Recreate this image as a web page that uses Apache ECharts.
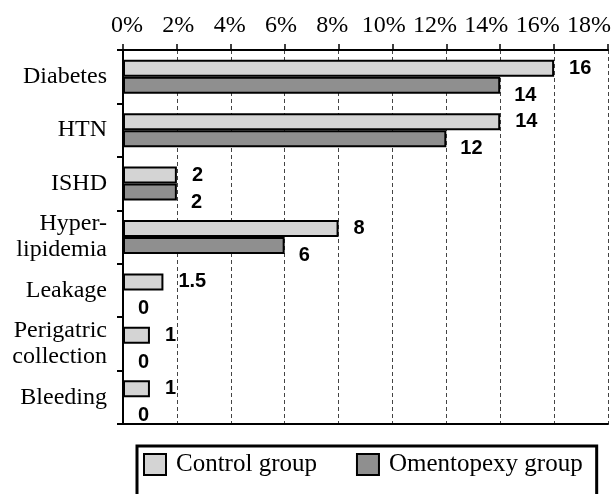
<!DOCTYPE html>
<html>
<head>
<meta charset="utf-8">
<script src="https://cdn.jsdelivr.net/npm/echarts@6/dist/echarts.min.js"></script>
<style>
html, body { margin: 0; padding: 0; background: #fff; }
#main { width: 616px; height: 494px; }
</style>
</head>
<body>
<div id="main"></div>
<script>
var categories = ['Diabetes', 'HTN', 'ISHD', 'Hyper-\nlipidemia', 'Leakage', 'Perigatric\ncollection', 'Bleeding'];
var controlValues = [16, 14, 2, 8, 1.5, 1, 1];
var omentopexyValues = [14, 12, 2, 6, 0, 0, 0];
var seriesNames = ['Control group', 'Omentopexy group'];

var chart = echarts.init(document.getElementById('main'));

var serif = 'Liberation Serif';
var labelFont = {
    show: true,
    position: 'right',
    fontFamily: 'Liberation Sans',
    fontWeight: 'bold',
    fontSize: 20,
    color: '#000'
};

option = {
    backgroundColor: '#fff',
    animation: false,
    grid: [
        // plot area
        { left: 123, right: 8, top: 50, bottom: 70 },
        // only for the top tick labels (they sit slightly apart from the ticks)
        { left: 127, right: 27, top: 50, height: 10 }
    ],
    legend: {
        data: seriesNames,
        left: 137,
        top: 446,
        orient: 'horizontal',
        icon: 'rect',
        itemWidth: 22,
        itemHeight: 21,
        itemGap: 39,
        borderColor: '#000',
        borderWidth: 3,
        padding: [6, 14, 40, 6],
        textStyle: {
            fontFamily: serif,
            fontSize: 25,
            color: '#000',
            padding: [0, 0, 0, 5]
        }
    },
    xAxis: [{
        type: 'value',
        gridIndex: 0,
        position: 'top',
        min: 0,
        max: 18,
        interval: 2,
        axisLine: { show: true, lineStyle: { color: '#000', width: 2 } },
        axisTick: { show: true, length: 6, lineStyle: { color: '#000', width: 1.5 } },
        axisLabel: { show: false },
        splitLine: { show: true, lineStyle: { color: '#444', width: 1, type: [4, 3] } }
    }, {
        type: 'value',
        gridIndex: 0,
        position: 'bottom',
        min: 0,
        max: 18,
        axisLine: { show: true, lineStyle: { color: '#000', width: 2 } },
        axisTick: { show: false },
        axisLabel: { show: false },
        splitLine: { show: false }
    }, {
        type: 'value',
        gridIndex: 1,
        position: 'top',
        min: 0,
        max: 18,
        interval: 2,
        axisLine: { show: false },
        axisTick: { show: false },
        splitLine: { show: false },
        axisLabel: {
            margin: 12,
            fontFamily: serif,
            fontSize: 24,
            color: '#000',
            formatter: '{value}%'
        }
    }],
    yAxis: [{
        type: 'category',
        gridIndex: 0,
        data: categories,
        inverse: true,
        axisLine: { show: true, lineStyle: { color: '#000', width: 2 } },
        axisTick: { show: true, length: 6, lineStyle: { color: '#000', width: 2 } },
        axisLabel: {
            margin: 16,
            fontFamily: serif,
            fontSize: 24,
            lineHeight: 26,
            color: '#000'
        },
        splitLine: { show: false }
    }, {
        type: 'category',
        gridIndex: 0,
        data: categories,
        inverse: true,
        position: 'right',
        axisLine: { show: true, lineStyle: { color: '#000', width: 1.5 } },
        axisTick: { show: false },
        axisLabel: { show: false }
    }, {
        type: 'value',
        gridIndex: 1,
        show: false
    }],
    series: [{
        name: seriesNames[0],
        type: 'bar',
        xAxisIndex: 0,
        yAxisIndex: 0,
        data: controlValues,
        barWidth: 17,
        barGap: '0%',
        itemStyle: { color: '#d4d4d4', borderColor: '#000', borderWidth: 2 },
        label: Object.assign({}, labelFont, { distance: 15, offset: [0, 0] })
    }, {
        name: seriesNames[1],
        type: 'bar',
        xAxisIndex: 0,
        yAxisIndex: 0,
        data: omentopexyValues,
        barWidth: 17,
        barGap: '0%',
        itemStyle: { color: '#8f8f8f', borderColor: '#000', borderWidth: 2 },
        label: Object.assign({}, labelFont, { distance: 14, offset: [0, 10] })
    }]
};

chart.setOption(option);
</script>
</body>
</html>
